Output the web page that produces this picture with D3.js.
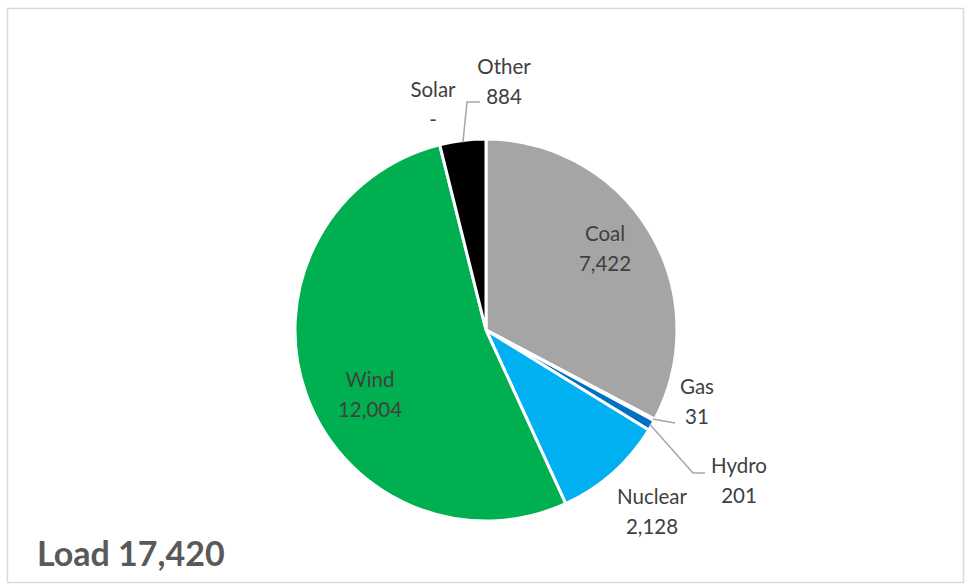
<!DOCTYPE html>
<html><head><meta charset="utf-8">
<script src="https://cdn.jsdelivr.net/npm/d3@7"></script>
<style>body{margin:0;background:#fff;} svg{display:block;}</style>
</head><body>
<svg id="c" width="965" height="585"></svg>
<script>
const categories = ["Coal","Gas","Hydro","Nuclear","Wind","Solar","Other"];
const values = [7422,31,201,2128,12004,0,884];
const valueLabels = ["7,422","31","201","2,128","12,004","-","884"];
const colors = ["#A5A5A5","#5B9BD5","#0070C0","#00B0F0","#00B050","#FFC000","#000000"];
const loadLabel = "Load 17,420";

const svg = d3.select("#c");
svg.append("rect").attr("x",7.5).attr("y",8.5).attr("width",956).attr("height",574)
  .attr("fill","#fff").attr("stroke","#d9d9d9").attr("stroke-width",1.5);

const cx=486, cy=330, r=191;
const data = categories.map((c,i)=>({cat:c,value:values[i],label:valueLabels[i],color:colors[i]}));
const pie = d3.pie().value(d=>d.value).sort(null);
const arcs = pie(data);
const arc = d3.arc().innerRadius(0).outerRadius(r);
const g = svg.append("g").attr("transform",`translate(${cx},${cy})`);
g.selectAll("path").data(arcs.filter(a=>a.data.value>0)).join("path")
  .attr("d",arc).attr("fill",d=>d.data.color)
  .attr("stroke","#fff").attr("stroke-width",3).attr("stroke-linejoin","round");

const pos = {
  Coal:[119,-81], Wind:[-116,65], Nuclear:[166,182],
  Gas:[211,72], Hydro:[253,151], Solar:[-53,-225], Other:[18,-248]
};
const lbl = g.selectAll("g.lbl").data(arcs).join("g").attr("class","lbl")
  .attr("transform",d=>`translate(${pos[d.data.cat][0]},${pos[d.data.cat][1]})`);
lbl.append("text").attr("text-anchor","middle").attr("y",-8)
  .attr("font-family","Lato, 'Open Sans', sans-serif").attr("font-size",20.5).attr("fill","#404040")
  .text(d=>d.data.cat);
lbl.append("text").attr("text-anchor","middle").attr("y",22)
  .attr("font-family","Lato, 'Open Sans', sans-serif").attr("font-size",20.5).attr("fill","#404040")
  .text(d=>d.data.label);

const outer = d3.arc().innerRadius(r-2).outerRadius(r-2);
const leaders = {
  Other: a=>{const p=outer.centroid(a);return [p,[-19,-228],[-6,-228]];},
  Gas: a=>{const p=outer.centroid(a);return [p,[189,93]];},
  Hydro: a=>{const p=outer.centroid(a);return [p,[207,143],[219,143]];}
};
g.selectAll("path.leader").data(arcs.filter(a=>leaders[a.data.cat])).join("path")
  .attr("class","leader").attr("fill","none").attr("stroke","#a6a6a6").attr("stroke-width",1.5)
  .attr("d",a=>d3.line()(leaders[a.data.cat](a)));

svg.append("text").attr("x",37).attr("y",566).attr("font-family","Lato, 'Open Sans', sans-serif")
  .attr("font-weight","bold").attr("font-size",34).attr("fill","#595959").text(loadLabel);
</script>
</body></html>
